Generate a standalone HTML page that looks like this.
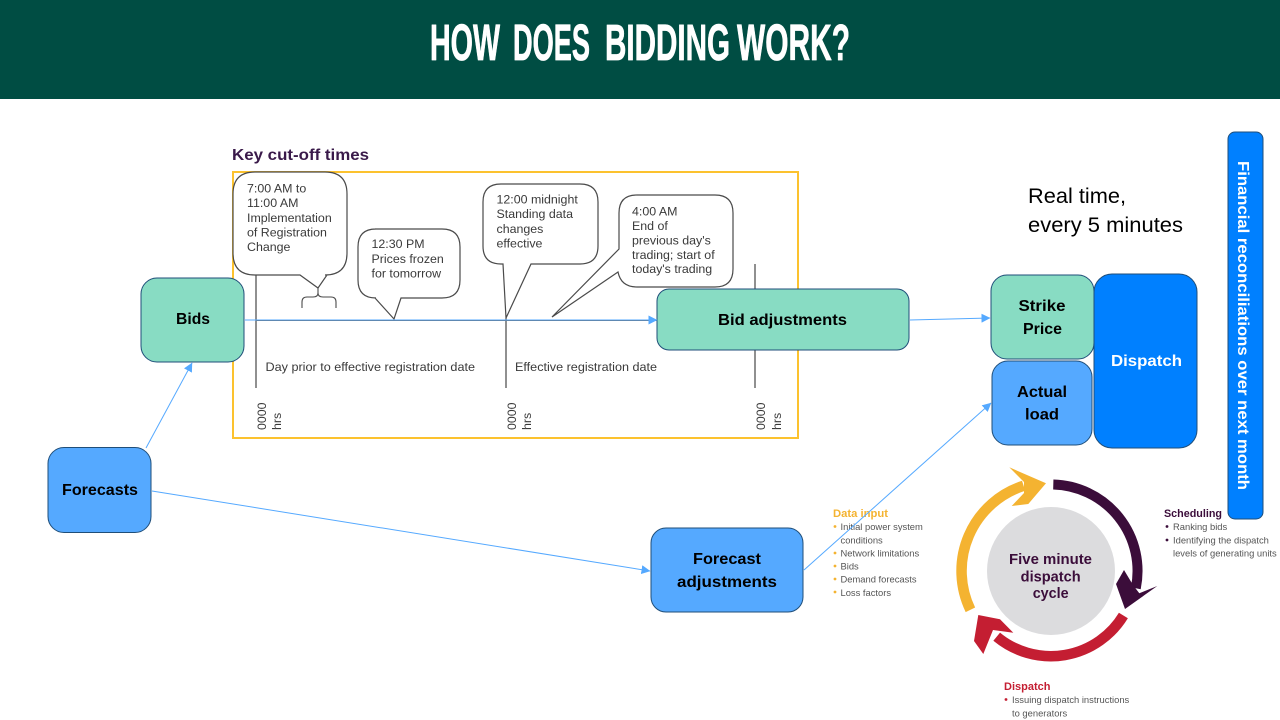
<!DOCTYPE html>
<html lang="en">
<head>
<meta charset="utf-8">
<title>How does bidding work?</title>
<style>
html,body{margin:0;padding:0;background:#fff;width:1280px;height:720px;overflow:hidden}
svg{display:block}
text{font-family:"Liberation Sans",sans-serif}
.c{font-size:12.4px;fill:#3a3a3a}
.n{font-size:16px;font-weight:bold;fill:#000}
.s{font-size:9.4px;fill:#555}
.callout{fill:#fff;stroke:#4a4a4a;stroke-width:1.2}
.v{stroke:#555;stroke-width:1.3;fill:none}
.box{stroke:#1f4e79;stroke-width:1}
.link{stroke:#55a9ff;stroke-width:1;fill:none;marker-end:url(#a)}
</style>
</head>
<body>
<svg width="1280" height="720" viewBox="0 0 1280 720" xmlns="http://www.w3.org/2000/svg">
<defs>
<marker id="a" viewBox="0 0 10 10" refX="9.5" refY="5" markerWidth="9" markerHeight="9" markerUnits="userSpaceOnUse" orient="auto">
<path d="M0 0L10 5L0 10Z" fill="#55a9ff"/>
</marker>
</defs>

<rect x="0" y="0" width="1280" height="99" fill="#004d43"/>
<g font-size="51" font-weight="bold" fill="#fff" stroke="#fff" stroke-width="0.8" stroke-linejoin="round">
<text x="430" y="60" textLength="70" lengthAdjust="spacingAndGlyphs">HOW</text>
<text x="513" y="60" textLength="77" lengthAdjust="spacingAndGlyphs">DOES</text>
<text x="605" y="60" textLength="125" lengthAdjust="spacingAndGlyphs">BIDDING</text>
<text x="737" y="60" textLength="113" lengthAdjust="spacingAndGlyphs">WORK?</text>
</g>

<text x="232" y="160" font-size="16" font-weight="bold" fill="#3a1a4a" textLength="137" lengthAdjust="spacingAndGlyphs">Key cut-off times</text>
<rect x="233" y="172" width="565" height="266" fill="#fff" stroke="#fcc22e" stroke-width="2"/>

<line class="v" x1="256" y1="275" x2="256" y2="388"/>
<line class="v" x1="506" y1="318" x2="506" y2="388"/>
<line class="v" x1="755" y1="264" x2="755" y2="388"/>
<line x1="256" y1="320.5" x2="660" y2="320.5" stroke="#666" stroke-width="1"/>

<path class="callout" d="M255 172H325Q347 172 347 194V253Q347 275 325 275L327 275L318 288L300 275H255Q233 275 233 253V194Q233 172 255 172Z"/>
<path d="M318 288V293Q318 297 313 297H307Q302 297 302 302V308M318 288V293Q318 297 323 297H331Q336 297 336 302V308" fill="none" stroke="#4a4a4a" stroke-width="1.1"/>
<path class="callout" d="M375 229H442Q460 229 460 247V280Q460 298 442 298H401L394 319L375 298H376Q358 298 358 280V247Q358 229 376 229Z"/>
<path class="callout" d="M503 184H580Q598 184 598 202V246Q598 264 580 264H531L506 318L503 264H501Q483 264 483 246V202Q483 184 501 184Z"/>
<path class="callout" d="M637 195H715Q733 195 733 213V269Q733 287 715 287H637Q621 287 618 272L552 317L619 249V213Q619 195 637 195Z"/>

<g class="c">
<text x="247" y="192.5">7:00 AM to</text>
<text x="247" y="207">11:00 AM</text>
<text x="247" y="222">Implementation</text>
<text x="247" y="236.5">of Registration</text>
<text x="247" y="251">Change</text>
<text x="371.500" y="248">12:30 PM</text>
<text x="371.500" y="263">Prices frozen</text>
<text x="371.500" y="277.500">for tomorrow</text>
<text x="496.500" y="203.500">12:00 midnight</text>
<text x="496.500" y="218">Standing data</text>
<text x="496.500" y="233">changes</text>
<text x="496.500" y="247.500">effective</text>
<text x="632" y="215.500">4:00 AM</text>
<text x="632" y="230">End of</text>
<text x="632" y="244.500">previous day's</text>
<text x="632" y="259">trading; start of</text>
<text x="632" y="273">today's trading</text>
<text x="265.500" y="371" textLength="209.500" lengthAdjust="spacingAndGlyphs">Day prior to effective registration date</text>
<text x="515" y="371" textLength="142" lengthAdjust="spacingAndGlyphs">Effective registration date</text>
<text transform="translate(266 430) rotate(-90)">0000</text>
<text transform="translate(281 430) rotate(-90)">hrs</text>
<text transform="translate(516 430) rotate(-90)">0000</text>
<text transform="translate(531 430) rotate(-90)">hrs</text>
<text transform="translate(765 430) rotate(-90)">0000</text>
<text transform="translate(781 430) rotate(-90)">hrs</text>
</g>

<!-- cycle -->
<circle cx="1051" cy="571" r="64" fill="#dcdcde"/>
<g fill="none">
<path d="M970.400 609.800A89.500 89.500 0 0 1 1023.600 485.800" stroke="#f4b331" stroke-width="10.500"/>
<path d="M1053.300 484.500A86.500 86.500 0 0 1 1135.800 588.200" stroke="#3b0d3a" stroke-width="10"/>
<path d="M1123.400 615.500A85 85 0 0 1 996.700 636.700" stroke="#c41e32" stroke-width="10.500"/>
</g>
<polygon points="1046,483.300 1009.300,467.300 1024,482 1024,493 1011.700,506 1028.300,504" fill="#f4b331"/>
<polygon points="1124,570 1116,584 1125,609 1157.300,586 1139.300,593.300 1133,585" fill="#3b0d3a"/>
<polygon points="978.300,615 1000,619.300 1013.300,632.700 993,630 983.300,654 974,641" fill="#c41e32"/>
<g font-size="14.500" font-weight="bold" fill="#3b0d3a">
<text x="1009" y="564" textLength="83" lengthAdjust="spacingAndGlyphs">Five minute</text>
<text x="1020.700" y="581.500" textLength="60" lengthAdjust="spacingAndGlyphs">dispatch</text>
<text x="1032.700" y="598" textLength="36" lengthAdjust="spacingAndGlyphs">cycle</text>
</g>

<text x="833" y="517" font-size="11" font-weight="bold" fill="#f4b331" textLength="55" lengthAdjust="spacingAndGlyphs">Data input</text>
<g class="s">
<text x="840.500" y="530">Initial power system</text>
<text x="840.500" y="543.500">conditions</text>
<text x="840.500" y="556.500">Network limitations</text>
<text x="840.500" y="569.500">Bids</text>
<text x="840.500" y="582.500">Demand forecasts</text>
<text x="840.500" y="596">Loss factors</text>
<text x="1173" y="530">Ranking bids</text>
<text x="1173" y="543.500">Identifying the dispatch</text>
<text x="1173" y="556.500">levels of generating units</text>
<text x="1012" y="703">Issuing dispatch instructions</text>
<text x="1012" y="716.500">to generators</text>
</g>
<g fill="#f4b331">
<circle cx="835" cy="526.500" r="1.400"/><circle cx="835" cy="553" r="1.400"/><circle cx="835" cy="566" r="1.400"/><circle cx="835" cy="579" r="1.400"/><circle cx="835" cy="592" r="1.400"/>
</g>
<text x="1164" y="517" font-size="11" font-weight="bold" fill="#3b0d3a" textLength="58" lengthAdjust="spacingAndGlyphs">Scheduling</text>
<circle cx="1167" cy="526.500" r="1.400" fill="#3b0d3a"/><circle cx="1167" cy="540" r="1.400" fill="#3b0d3a"/>
<text x="1004" y="690" font-size="11" font-weight="bold" fill="#c41e32">Dispatch</text>
<circle cx="1006" cy="699.500" r="1.400" fill="#c41e32"/>

<!-- nodes -->
<rect class="box" x="141" y="278" width="103" height="84" rx="16" fill="#88dcc3"/>
<rect class="box" x="48" y="447.500" width="103" height="85" rx="16" fill="#55a9ff"/>
<rect class="box" x="657" y="289" width="252" height="61" rx="12" fill="#88dcc3"/>
<rect class="box" x="651" y="528" width="152" height="84" rx="15" fill="#55a9ff"/>
<rect class="box" x="991" y="275" width="103" height="84" rx="16" fill="#88dcc3"/>
<rect class="box" x="992" y="361" width="100" height="84" rx="16" fill="#55a9ff"/>
<rect class="box" x="1094" y="274" width="103" height="174" rx="18" fill="#0080ff"/>
<rect class="box" x="1228" y="132" width="35" height="387" rx="7" fill="#0080ff"/>

<!-- connectors -->
<line class="link" x1="146" y1="448" x2="192" y2="363"/>
<line class="link" x1="152" y1="491" x2="650" y2="571"/>
<line class="link" x1="804" y1="570" x2="991" y2="403"/>
<line class="link" x1="910" y1="320" x2="990" y2="318"/>
<line class="link" x1="245" y1="320" x2="657" y2="320"/>

<!-- node labels -->
<g class="n">
<text x="176" y="324" textLength="34" lengthAdjust="spacingAndGlyphs">Bids</text>
<text x="62" y="495" textLength="76" lengthAdjust="spacingAndGlyphs">Forecasts</text>
<text x="718" y="325" textLength="129" lengthAdjust="spacingAndGlyphs">Bid adjustments</text>
<text x="693" y="564" textLength="68" lengthAdjust="spacingAndGlyphs">Forecast</text>
<text x="677" y="587" textLength="100" lengthAdjust="spacingAndGlyphs">adjustments</text>
<text x="1018.500" y="311" textLength="47" lengthAdjust="spacingAndGlyphs">Strike</text>
<text x="1023" y="334" textLength="39" lengthAdjust="spacingAndGlyphs">Price</text>
<text x="1017" y="397" textLength="50" lengthAdjust="spacingAndGlyphs">Actual</text>
<text x="1025" y="419.500" textLength="34" lengthAdjust="spacingAndGlyphs">load</text>
</g>
<text x="1111" y="366" font-size="16" font-weight="bold" fill="#fff" textLength="71" lengthAdjust="spacingAndGlyphs">Dispatch</text>
<text transform="translate(1238 161) rotate(90)" font-size="16" font-weight="bold" fill="#fff" textLength="329" lengthAdjust="spacingAndGlyphs">Financial reconciliations over next month</text>
<text x="1028" y="203" font-size="21" fill="#000" textLength="98" lengthAdjust="spacingAndGlyphs">Real time,</text>
<text x="1028" y="232" font-size="21" fill="#000" textLength="155" lengthAdjust="spacingAndGlyphs">every 5 minutes</text>
</svg>
</body>
</html>
